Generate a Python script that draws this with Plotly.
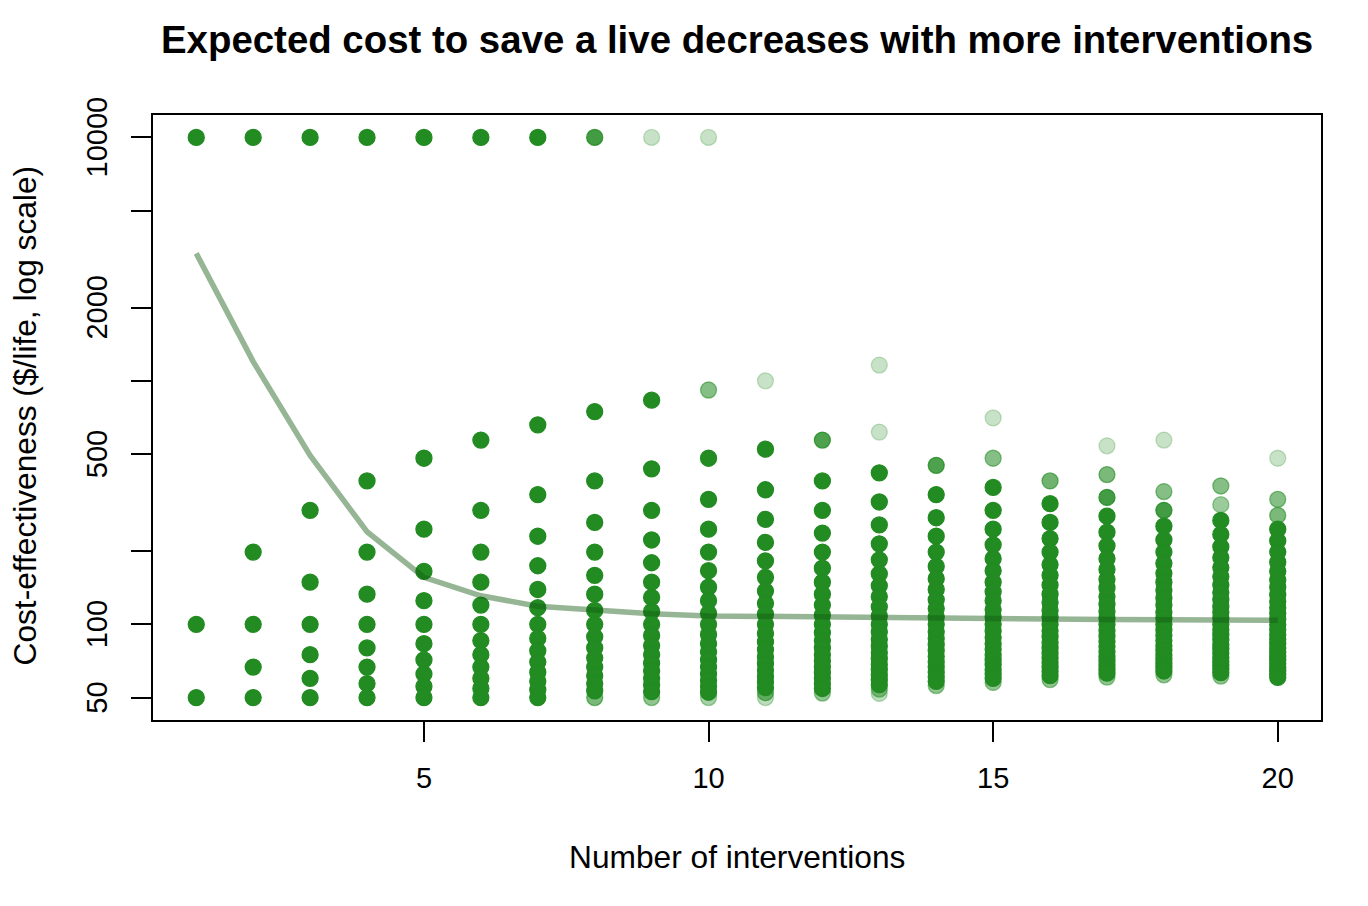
import math
import plotly.graph_objects as go

# ---- data ----
n_interventions = list(range(1, 21))

# mean (expected) cost per life for each number of interventions
mean_cost = [3340, 1200, 494, 240, 156, 131, 118.6, 113.7, 110.4, 108.3,
             107.6, 107.1, 106.6, 105.9, 105.4, 104.9, 104.6, 104.3, 104.1, 104.0]

# frequently occurring (opaque) outcomes per number of interventions
costs_01 = [10000, 100, 50]
costs_02 = [10000, 198, 100, 66.7, 50]
costs_03 = [10000, 294, 149, 100, 75, 60, 50]
costs_04 = [10000, 388, 198, 133, 100, 80, 66.7, 57.1, 50]
costs_05 = [10000, 481, 246, 165, 125, 100, 83.3, 71.4, 62.5, 55.6, 50]
costs_06 = [10000, 571, 294, 198, 149, 120, 100, 85.7, 75, 66.7, 60, 54.5, 50]
costs_07 = [10000, 660, 341, 230, 174, 139, 117, 100, 87.5, 77.8, 70, 63.6, 58.3, 53.8, 50]
costs_08 = [748, 388, 262, 198, 159, 133, 114, 100, 88.9, 80, 72.7, 66.7, 61.5, 57.1, 53.3]
costs_09 = [833, 435, 294, 222, 179, 149, 129, 113, 100, 90, 81.8, 75, 69.2, 64.3, 60, 56.3, 52.9]
costs_10 = [481, 326, 246, 198, 166, 142, 125, 111, 100, 90.9, 83.3, 76.9, 71.4, 66.7,
            62.5, 58.8, 55.6, 52.6]
costs_11 = [524, 357, 270, 217, 182, 156, 137, 122, 110, 100, 91.7, 84.6, 78.6, 73.3,
            68.8, 64.7, 61.1, 57.9, 55]
costs_12 = [388, 294, 237, 198, 170, 149, 133, 120, 109, 100, 92.3, 85.7, 80, 75, 70.6,
            66.7, 63.2, 60, 57.1, 54.5]
costs_13 = [419, 318, 256, 214, 184, 161, 144, 130, 118, 108, 100, 92.9, 86.7, 81.3, 76.5,
            72.2, 68.4, 65, 61.9, 59.1, 56.5]
costs_14 = [341, 274, 230, 198, 173, 154, 139, 126, 116, 107, 100, 93.3, 87.5, 82.4, 77.8,
            73.7, 70, 66.7, 63.6, 60.9, 58.3]
costs_15 = [365, 294, 246, 212, 186, 166, 149, 136, 125, 115, 107, 100, 93.8, 88.2, 83.3,
            78.9, 75, 71.4, 68.2, 65.2, 62.5, 60]
costs_16 = [313, 262, 225, 198, 176, 159, 145, 133, 123, 114, 107, 100, 94.1, 88.9, 84.2,
            80, 76.2, 72.7, 69.6, 66.7, 64, 61.5]
costs_17 = [278, 239, 210, 186, 168, 153, 141, 130, 121, 113, 106, 100, 94.4, 89.5, 85,
            81, 77.3, 73.9, 70.8, 68, 65.4, 63]
costs_18 = [253, 222, 198, 178, 162, 149, 138, 128, 120, 112, 106, 100, 94.7, 90, 85.7,
            81.8, 78.3, 75, 72, 69.2, 66.7, 64.3]
costs_19 = [267, 234, 208, 188, 171, 157, 145, 135, 126, 118, 112, 106, 100, 95, 90.5,
            86.4, 82.6, 79.2, 76, 73, 70.4, 67.9, 65.5, 63.3]
costs_20 = [246, 220, 198, 180, 165, 152, 142, 132, 124, 117, 111, 105, 99.6, 95, 90.7,
            86.8, 83.2, 79.8, 76.8, 74, 71.4, 69, 66.6, 64.4, 62.4, 60.5]

# rare outcomes (drawn only a few times -> lighter)
rare_n = [8, 8, 9, 9, 10, 10, 10, 11, 11, 11, 12, 12, 13, 13, 13, 13, 14, 14,
          15, 15, 15, 16, 16, 17, 17, 17, 17, 18, 18, 18, 18, 19, 19, 19, 20, 20, 20]
rare_cost = [10000, 50, 10000, 50, 10000, 917, 50, 1000, 52.4, 50, 571, 52.2,
             1161, 616, 54.2, 52, 450, 56, 704, 481, 57.7, 388, 59.3,
             541, 412, 332, 60.7, 571, 351, 294, 62, 370, 310, 61.3, 481, 326, 280]
rare_alpha = [0.85, 0.6, 0.25, 0.5, 0.25, 0.55, 0.4, 0.25, 0.6, 0.3, 0.8, 0.5,
              0.25, 0.25, 0.5, 0.3, 0.8, 0.5, 0.25, 0.55, 0.5, 0.65, 0.5,
              0.25, 0.6, 0.85, 0.5, 0.25, 0.55, 0.85, 0.5, 0.55, 0.45, 0.5, 0.25, 0.55, 0.6]

title_text = "Expected cost to save a live decreases with more interventions"
x_title = "Number of interventions"
y_title = "Cost-effectiveness ($/life, log scale)"
x_tickvals = [5, 10, 15, 20]
y_tickvals = [50, 100, 200, 500, 1000, 2000, 5000, 10000]
y_ticktext = ["50", "100", "", "500", "", "2000", "", "10000"]

# ---- build figure ----
all_cols = [costs_01, costs_02, costs_03, costs_04, costs_05, costs_06, costs_07,
            costs_08, costs_09, costs_10, costs_11, costs_12, costs_13, costs_14,
            costs_15, costs_16, costs_17, costs_18, costs_19, costs_20]

GREEN = (34, 139, 34)
FONT = "Liberation Sans, Arial, sans-serif"
MSIZE = 16


def rgba(a):
    return f"rgba({GREEN[0]},{GREEN[1]},{GREEN[2]},{a})"


fig = go.Figure()

# rare (light) points first
fig.add_trace(go.Scatter(
    x=rare_n, y=rare_cost, mode="markers",
    marker=dict(size=MSIZE, color=[rgba(a) for a in rare_alpha],
                line=dict(width=1.3, color=[rgba(a) for a in rare_alpha])),
    showlegend=False, hoverinfo="x+y"))

sx, sy = [], []
for n, col in zip(n_interventions, all_cols):
    for v in col:
        sx.append(n)
        sy.append(v)

fig.add_trace(go.Scatter(
    x=sx, y=sy, mode="markers",
    marker=dict(size=MSIZE, color=rgba(1), line=dict(width=1.3, color=rgba(1))),
    showlegend=False, hoverinfo="x+y"))

fig.add_trace(go.Scatter(
    x=n_interventions, y=mean_cost, mode="lines",
    line=dict(color="rgba(20,90,20,0.45)", width=5.5),
    showlegend=False, hoverinfo="x+y"))

axis_common = dict(
    showline=True, linecolor="black", linewidth=1.5, mirror=True,
    ticks="outside", ticklen=20, tickwidth=1.5, tickcolor="black",
    showgrid=False, zeroline=False,
    tickfont=dict(family=FONT, size=29, color="black"),
)

annotations = [
    dict(text=title_text, xref="paper", yref="paper", x=0.5, y=1.1256,
         xanchor="center", yanchor="middle", showarrow=False,
         font=dict(family=FONT, size=38.4, color="black", weight="bold")),
    dict(text=x_title, xref="paper", yref="paper", x=0.5, y=-0.2264,
         xanchor="center", yanchor="middle", showarrow=False,
         font=dict(family=FONT, size=31.7, color="black")),
    dict(text=y_title, xref="paper", yref="paper", x=-0.1100, y=0.5025,
         xanchor="center", yanchor="middle", showarrow=False, textangle=-90,
         font=dict(family=FONT, size=31.7, color="black")),
]
# rotated y tick labels, centred on their ticks
for v, t in zip(y_tickvals, y_ticktext):
    if t:
        annotations.append(dict(
            text=t, xref="paper", yref="y", x=-0.0479, y=math.log10(v),
            xanchor="center", yanchor="middle", showarrow=False, textangle=-90,
            font=dict(family=FONT, size=29, color="black")))

# the page body adds an 8px offset, so the figure is 8px smaller on each side
fig.update_layout(
    width=1360, height=898,
    margin=dict(l=145, r=47, t=107, b=186),
    paper_bgcolor="white", plot_bgcolor="white",
    xaxis=dict(range=[0.24, 20.76], tickmode="array", tickvals=x_tickvals,
               ticklabelstandoff=11, **axis_common),
    yaxis=dict(type="log", range=[1.60693, 4.09204], tickmode="array",
               tickvals=y_tickvals, showticklabels=False, **axis_common),
    annotations=annotations,
)

fig.write_html("out.html")
